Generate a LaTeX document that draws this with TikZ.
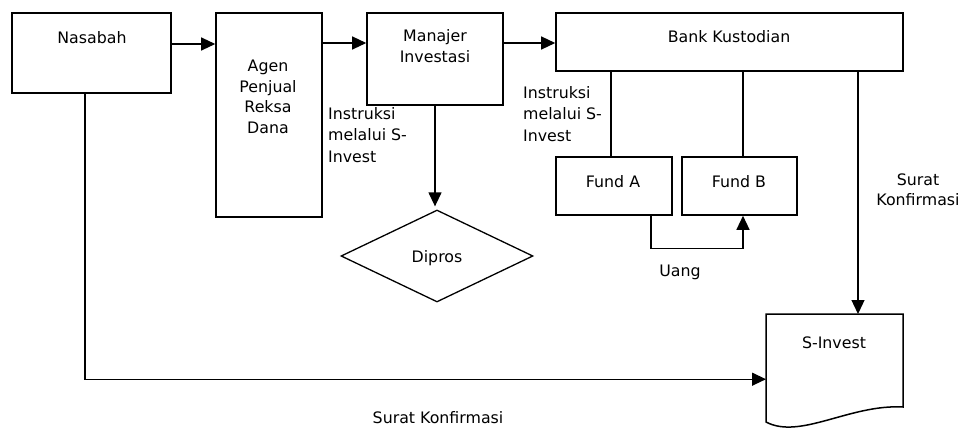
\documentclass[tikz,border=0pt]{standalone}
\usepackage{fontspec}
\setmainfont{DejaVu Sans}
\usetikzlibrary{shapes.geometric,arrows.meta,calc}
\begin{document}
\begin{tikzpicture}[x=1pt,y=-1pt,
  box/.style={draw,rectangle,line width=1.6pt,inner sep=0pt},
  txt/.style={font=\fontsize{15.8}{21.5}\selectfont,inner sep=0pt,align=center},
  lbl/.style={txt,align=left,anchor=north west},
  ln/.style={line width=1.3pt},
  arr/.style={line width=1.3pt,-{Triangle[length=14pt,width=13pt]}}
]
\useasboundingbox (0,0) rectangle (964,428);
% boxes
\node[box,minimum width=159pt,minimum height=80pt] (nas) at (91.5,53) {};
\node[box,minimum width=106pt,minimum height=204pt] (agen) at (269,115) {};
\node[box,minimum width=136pt,minimum height=92pt] (man) at (435,59) {};
\node[box,minimum width=347pt,minimum height=58pt] (bank) at (729.5,42) {};
\node[box,minimum width=116pt,minimum height=58pt] (fa) at (614,186) {};
\node[box,minimum width=115pt,minimum height=58pt] (fb) at (739.5,186) {};
\node[draw,diamond,line width=1.3pt,inner sep=0pt,minimum width=192pt,minimum height=92pt] (dip) at (437,256) {};
\node[inner sep=0pt,minimum width=137pt,minimum height=108pt,anchor=north west] (sinv) at (766,314) {};
\draw[line width=1.5pt] (766,314) -- (903,314) -- (903,407)
  .. controls (850,404) and (800,440) .. (766,422) -- cycle;
% texts
\node[txt,anchor=north] (tnas) at (92,31) {Nasabah};
\node[txt,anchor=north,font=\fontsize{15.8}{20.8}\selectfont] (tagen) at (268,59.5) {Agen\\Penjual\\Reksa\\Dana};
\node[txt,anchor=north] (tman) at (435,29) {Manajer\\Investasi};
\node[txt,anchor=north] (tbank) at (729,30) {Bank Kustodian};
\node[txt,anchor=north] (tfa) at (613,175) {Fund A};
\node[txt,anchor=north] (tfb) at (739,175) {Fund B};
\node[txt,anchor=north] (tdip) at (437,250) {Dipros};
\node[txt,anchor=north] (tsinv) at (834,337) {S-Invest};
\node[txt,anchor=north] (tuang) at (680,265) {Uang};
\node[txt,anchor=north,font=\fontsize{15.8}{19.4}\selectfont] (tsk1) at (918,174) {Surat\\Konfirmasi};
\node[txt,anchor=north] (tsk2) at (438,411) {Surat Konfirmasi};
\node[lbl] (ti1) at (328,107) {Instruksi\\melalui S-\\Invest};
\node[lbl] (ti2) at (523,86) {Instruksi\\melalui S-\\Invest};
% connectors
\draw[arr] ($(nas.east)+(0,9pt)$) -- ($(nas.east -| agen.west)+(0,9pt)$);
\draw[arr] ($(man.west -| agen.east)+(0,16pt)$) -- ($(man.west)+(0,16pt)$);
\draw[arr] ($(man.east)+(0,16pt)$) -- ($(man.east -| bank.west)+(0,16pt)$);
\draw[arr] (man.south) -- ($(man.south |- dip.north)+(0,3pt)$);
\draw[ln] ($(fa.north)+(-3pt,0)$) -- ($(fa.north |- bank.south)+(-3pt,0)$);
\draw[ln] ($(fb.north)+(3.5pt,0)$) -- ($(fb.north |- bank.south)+(3.5pt,0)$);
\draw[arr] ($(fa.south)+(37pt,0)$) -- ++(0,-33pt) -| ($(fb.south)+(3.5pt,0)$);
\draw[arr] ($(bank.south)+(128.5pt,0)$) -- ($(bank.south |- sinv.north)+(128.5pt,0)$);
\draw[arr] ($(nas.south)+(-6.5pt,0)$) |- ($(sinv.west)+(0,-11pt)$);
\end{tikzpicture}
\end{document}
